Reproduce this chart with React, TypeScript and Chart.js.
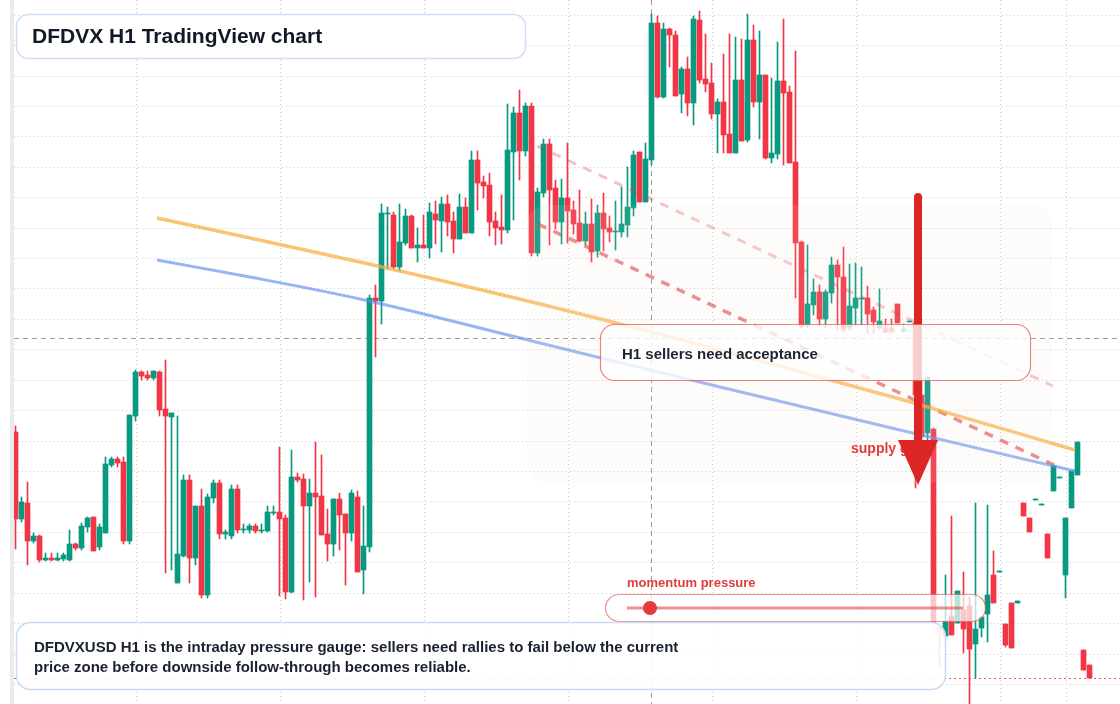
import React, { useEffect, useRef } from "react";
import { Chart, registerables } from "chart.js";

Chart.register(...registerables);

// ---- Candle data (DFDVX, H1) ----
const opens = [
  22.72, 21.85, 22.01, 21.63, 21.68, 21.44, 21.46, 21.44, 21.45, 21.44,
  21.60, 21.56, 21.77, 21.87, 21.57, 21.71, 22.39, 22.45, 22.42, 21.63,
  22.88, 23.32, 23.29, 23.26, 23.32, 22.95, 22.87, 21.21, 21.48, 22.24,
  21.46, 21.98, 21.09, 22.06, 22.21, 21.70, 21.68, 22.15, 21.74, 21.74,
  21.78, 21.73, 21.73, 21.91, 21.92, 21.86, 21.12, 22.27, 22.25, 21.98,
  22.11, 22.08, 21.70, 21.60, 22.05, 21.90, 21.71, 22.07, 21.34, 21.57,
  24.06, 24.03, 24.90, 24.89, 24.37, 24.61, 24.88, 24.56, 24.59, 24.56,
  24.90, 24.83, 25.00, 24.83, 24.65, 24.97, 24.71, 25.44, 25.22, 25.19,
  24.83, 24.77, 24.74, 25.52, 25.91, 25.53, 25.98, 24.51, 25.11, 25.60,
  25.16, 24.82, 25.06, 24.94, 24.81, 24.63, 24.80, 24.53, 24.91, 24.76,
  24.72, 24.72, 24.79, 24.96, 25.52, 25.02, 25.44, 26.81, 26.07, 26.75,
  26.69, 26.10, 26.35, 26.01, 26.84, 26.25, 26.21, 25.90, 26.02, 25.70,
  25.51, 26.24, 25.64, 26.64, 26.02, 26.29, 25.46, 25.50, 26.23, 26.12,
  25.42, 24.62, 23.78, 23.99, 24.12, 23.85, 24.11, 24.39, 24.27, 23.76,
  23.96, 24.05, 24.06, 23.94, 23.76, 23.76, 23.76, 24.00, 23.73, 23.82,
  23.81, 23.09, 22.71, 22.75, 20.77, 20.68, 20.88, 20.81, 20.94, 20.98,
  20.60, 20.76, 20.90, 21.29, 21.32, 20.80, 21.01, 21.01, 22.01, 21.86,
  22.04, 21.99, 21.70, 22.13, 22.26, 21.29, 21.96, 22.29, 20.54, 20.39,
];
const highs = [
  22.78, 22.07, 22.22, 21.71, 21.69, 21.51, 21.51, 21.51, 21.51, 21.74,
  21.61, 21.81, 21.87, 21.87, 21.80, 22.47, 22.47, 22.47, 22.47, 22.89,
  23.34, 23.33, 23.33, 23.33, 23.33, 23.44, 22.91, 22.88, 22.29, 22.29,
  21.98, 22.15, 22.10, 22.24, 22.24, 21.74, 22.19, 22.19, 21.80, 21.80,
  21.80, 21.80, 21.98, 21.98, 22.57, 21.89, 22.54, 22.31, 22.30, 22.25,
  22.62, 22.49, 21.95, 22.05, 22.11, 21.90, 22.14, 22.13, 21.98, 24.09,
  24.19, 25.00, 24.97, 24.92, 25.00, 24.95, 24.89, 24.76, 24.89, 25.01,
  25.03, 25.07, 25.09, 24.92, 25.10, 25.06, 25.53, 25.53, 25.28, 25.31,
  24.92, 25.09, 26.00, 25.97, 26.14, 26.01, 26.01, 25.16, 25.65, 25.65,
  25.24, 25.25, 25.61, 25.03, 25.14, 24.92, 25.05, 24.99, 25.11, 24.88,
  25.03, 25.17, 25.37, 25.53, 25.52, 25.61, 26.90, 26.88, 26.81, 26.76,
  26.73, 26.37, 26.47, 26.88, 26.93, 26.70, 26.41, 26.05, 26.50, 26.70,
  26.67, 26.65, 26.90, 26.79, 26.73, 26.29, 26.26, 26.62, 26.85, 26.18,
  26.53, 24.63, 24.59, 24.25, 24.19, 24.14, 24.47, 24.44, 24.57, 24.40,
  24.41, 24.37, 24.18, 23.97, 24.15, 23.85, 23.85, 24.00, 23.80, 23.83,
  23.84, 23.24, 23.27, 22.76, 20.77, 21.29, 21.88, 21.13, 21.32, 21.07,
  22.01, 20.87, 21.99, 21.53, 21.33, 20.80, 21.01, 21.03, 22.01, 21.86,
  22.05, 22.00, 21.70, 22.38, 22.27, 21.86, 22.33, 22.62, 20.54, 20.39,
];
const lows = [
  21.55, 21.82, 21.39, 21.61, 21.42, 21.43, 21.43, 21.43, 21.43, 21.43,
  21.54, 21.54, 21.72, 21.53, 21.54, 21.71, 22.37, 22.37, 21.60, 21.60,
  22.83, 23.24, 23.24, 23.24, 22.88, 21.31, 21.34, 21.21, 21.47, 21.21,
  21.39, 21.06, 21.06, 22.01, 21.65, 21.65, 21.65, 21.71, 21.71, 21.71,
  21.71, 21.71, 21.72, 21.89, 21.08, 21.05, 21.11, 22.22, 21.04, 21.22,
  21.07, 21.69, 21.43, 21.48, 21.54, 21.19, 21.63, 21.32, 21.10, 21.52,
  23.47, 23.80, 24.35, 24.35, 24.33, 24.59, 24.56, 24.42, 24.56, 24.46,
  24.60, 24.52, 24.68, 24.51, 24.65, 24.71, 24.71, 24.94, 25.06, 24.68,
  24.59, 24.60, 24.71, 24.84, 25.24, 25.48, 24.48, 24.48, 25.07, 24.59,
  24.75, 24.60, 24.61, 24.70, 24.62, 24.59, 24.42, 24.47, 24.53, 24.62,
  24.54, 24.67, 24.67, 24.88, 25.02, 25.02, 25.39, 26.06, 26.06, 26.37,
  26.08, 25.91, 25.88, 25.79, 26.21, 26.12, 25.85, 25.51, 25.51, 25.51,
  25.51, 25.63, 25.62, 25.97, 25.65, 25.45, 25.41, 25.45, 25.39, 25.41,
  24.06, 23.76, 23.76, 23.89, 23.78, 23.76, 24.01, 23.74, 23.72, 23.74,
  23.78, 23.78, 23.71, 23.71, 23.74, 23.71, 23.72, 23.81, 23.71, 23.82,
  22.16, 22.64, 22.64, 20.80, 20.37, 20.68, 20.69, 20.81, 20.51, 19.98,
  20.26, 20.67, 20.62, 21.01, 21.32, 20.57, 20.56, 21.01, 21.88, 21.72,
  22.04, 21.99, 21.46, 22.13, 22.26, 21.06, 21.96, 22.29, 20.34, 20.26,
];
const closes = [
  21.85, 22.02, 21.63, 21.68, 21.44, 21.46, 21.44, 21.46, 21.49, 21.60,
  21.56, 21.78, 21.86, 21.53, 21.77, 22.40, 22.45, 22.41, 21.63, 22.89,
  23.32, 23.28, 23.26, 23.33, 22.94, 22.88, 22.91, 21.50, 22.24, 21.46,
  21.98, 21.09, 22.07, 22.21, 21.70, 21.72, 22.15, 21.74, 21.75, 21.78,
  21.73, 21.74, 21.92, 21.92, 21.85, 21.12, 22.27, 22.24, 21.98, 22.11,
  22.07, 21.69, 21.60, 22.05, 21.89, 21.71, 22.11, 21.32, 21.58, 24.06,
  24.03, 24.91, 24.91, 24.37, 24.62, 24.88, 24.56, 24.59, 24.56, 24.92,
  24.84, 25.00, 24.82, 24.65, 24.97, 24.71, 25.44, 25.21, 25.18, 24.82,
  24.76, 24.74, 25.54, 25.91, 25.53, 25.98, 24.51, 25.12, 25.60, 25.14,
  24.82, 25.06, 24.93, 24.80, 24.63, 24.80, 24.52, 24.91, 24.75, 24.72,
  24.73, 24.80, 24.97, 25.49, 25.02, 25.45, 26.81, 26.07, 26.75, 26.69,
  26.08, 26.35, 26.01, 26.85, 26.24, 26.20, 25.90, 26.02, 25.69, 25.51,
  26.24, 25.63, 26.64, 26.02, 26.29, 25.46, 25.51, 26.23, 26.11, 25.41,
  24.61, 23.78, 24.00, 24.12, 23.85, 24.12, 24.39, 24.27, 23.74, 23.98,
  24.06, 24.06, 23.90, 23.82, 23.83, 23.72, 23.72, 23.81, 23.75, 23.83,
  23.09, 22.67, 23.27, 20.82, 20.72, 20.83, 20.69, 21.13, 20.75, 20.55,
  20.75, 20.87, 21.09, 21.01, 21.33, 20.59, 20.56, 21.03, 21.88, 21.72,
  22.05, 22.00, 21.46, 22.38, 22.27, 21.86, 22.33, 22.62, 20.34, 20.26,
];

// ---- Overlay lines (bar index, price) ----
const orangeIdx = [23.58, 57.42, 87.42, 117.42, 147.42, 176.58];
const orangePx = [24.86, 24.42, 24.0, 23.54, 23.05, 22.54];
const blueIdx = [23.58, 39.08, 57.42, 87.42, 117.42, 147.42, 176.58];
const bluePx = [24.44, 24.27, 24.05, 23.61, 23.17, 22.74, 22.33];
const resistIdx = [87.08, 173.08];
const resistPx = [24.8, 22.39];
const upperIdx = [86.92, 172.92];
const upperPx = [25.58, 23.18];

// ---- Axis / grid ----
const priceMin = 20.0;
const priceMax = 27.04;
const idxMin = -0.25;
const idxMax = 184.083;
const gridPriceTop = 26.893;
const gridPriceStep = 0.3042;
const gridPriceCount = 23;
const gridIdx = [20, 44, 68, 92, 116, 140, 164, 175];
const crossIdx = 105.92;
const crossPrice = 23.66;

const UP = "#089981";
const DOWN = "#f23645";
const FONT = '"Liberation Sans", Arial, Helvetica, sans-serif';

function rr(ctx: CanvasRenderingContext2D, x: number, y: number, w: number, h: number, r: number) {
  ctx.beginPath();
  ctx.moveTo(x + r, y);
  ctx.lineTo(x + w - r, y);
  ctx.arcTo(x + w, y, x + w, y + r, r);
  ctx.lineTo(x + w, y + h - r);
  ctx.arcTo(x + w, y + h, x + w - r, y + h, r);
  ctx.lineTo(x + r, y + h);
  ctx.arcTo(x, y + h, x, y + h - r, r);
  ctx.lineTo(x, y + r);
  ctx.arcTo(x, y, x + r, y, r);
  ctx.closePath();
}

const decorPlugin = {
  id: "decor",
  beforeDatasetsDraw(chart: any) {
    const { ctx, chartArea, scales } = chart;
    const xs = scales.x;
    const ys = scales.y;
    ctx.save();
    ctx.fillStyle = "#ebebeb";
    ctx.fillRect(10, 0, 4, chart.height);
    ctx.strokeStyle = "#c8cbd0";
    ctx.lineWidth = 1;
    ctx.setLineDash([1, 3]);
    for (let k = 0; k < gridPriceCount; k++) {
      const y = Math.round(ys.getPixelForValue(gridPriceTop - k * gridPriceStep)) + 0.5;
      ctx.beginPath();
      ctx.moveTo(chartArea.left, y);
      ctx.lineTo(chartArea.right, y);
      ctx.stroke();
    }
    gridIdx.forEach((i) => {
      const x = Math.round(xs.getPixelForValue(i)) + 0.5;
      ctx.beginPath();
      ctx.moveTo(x, 0);
      ctx.lineTo(x, chart.height);
      ctx.stroke();
    });
    ctx.strokeStyle = "#9a9a9a";
    ctx.setLineDash([5, 4]);
    const cy = Math.round(ys.getPixelForValue(crossPrice)) + 0.5;
    ctx.beginPath();
    ctx.moveTo(chartArea.left, cy);
    ctx.lineTo(chartArea.right, cy);
    ctx.stroke();
    const cx = Math.round(xs.getPixelForValue(crossIdx)) + 0.5;
    ctx.beginPath();
    ctx.moveTo(cx, 0);
    ctx.lineTo(cx, chart.height);
    ctx.stroke();
    ctx.strokeStyle = "#f05a5a";
    ctx.setLineDash([2, 3]);
    const py = Math.round(ys.getPixelForValue(closes[closes.length - 1])) + 0.5;
    ctx.beginPath();
    ctx.moveTo(chartArea.left, py);
    ctx.lineTo(chartArea.right, py);
    ctx.stroke();
    ctx.restore();
  },
  afterDraw(chart: any) {
    const ctx: CanvasRenderingContext2D = chart.ctx;
    ctx.save();
    ctx.setLineDash([]);
    // faint zone
    rr(ctx, 527, 205, 525, 278, 20);
    ctx.fillStyle = "rgba(245,228,218,0.11)";
    ctx.fill();

    // supply label
    ctx.fillStyle = "#e03c3c";
    ctx.font = `bold 14px ${FONT}`;
    ctx.textBaseline = "middle";
    ctx.fillText("supply gap", 851, 449);

    // arrow
    ctx.strokeStyle = "#dc2626";
    ctx.lineWidth = 8;
    ctx.lineCap = "round";
    ctx.beginPath();
    ctx.moveTo(918, 197);
    ctx.lineTo(918, 445);
    ctx.stroke();
    ctx.lineCap = "butt";
    ctx.fillStyle = "#dc2626";
    ctx.beginPath();
    ctx.moveTo(898, 440);
    ctx.lineTo(938, 440);
    ctx.lineTo(918, 485);
    ctx.closePath();
    ctx.fill();

    // H1 sellers box
    rr(ctx, 600.5, 324.5, 430, 56, 14);
    ctx.fillStyle = "rgba(255,255,255,0.78)";
    ctx.fill();
    ctx.strokeStyle = "rgba(228,90,90,0.75)";
    ctx.lineWidth = 1.2;
    ctx.stroke();
    ctx.fillStyle = "#1f2530";
    ctx.font = `bold 15px ${FONT}`;
    ctx.fillText("H1 sellers need acceptance", 622, 355);

    // momentum pressure widget
    ctx.fillStyle = "#e03e3e";
    ctx.font = `bold 13px ${FONT}`;
    ctx.fillText("momentum pressure", 627, 583);
    rr(ctx, 605.5, 594.5, 380, 27, 13.5);
    ctx.fillStyle = "rgba(255,255,255,0.72)";
    ctx.fill();
    ctx.strokeStyle = "rgba(228,90,90,0.65)";
    ctx.lineWidth = 1.2;
    ctx.stroke();
    ctx.strokeStyle = "rgba(225,70,70,0.6)";
    ctx.lineWidth = 3;
    ctx.beginPath();
    ctx.moveTo(627, 608);
    ctx.lineTo(963, 608);
    ctx.stroke();
    ctx.fillStyle = "#e23b3b";
    ctx.beginPath();
    ctx.arc(650, 608, 7, 0, Math.PI * 2);
    ctx.fill();

    // bottom text box
    rr(ctx, 16.5, 622.5, 929, 67, 14);
    ctx.fillStyle = "rgba(255,255,255,0.9)";
    ctx.fill();
    ctx.strokeStyle = "rgba(195,215,245,0.9)";
    ctx.lineWidth = 1.5;
    ctx.stroke();
    ctx.fillStyle = "#1a2230";
    ctx.font = `bold 15px ${FONT}`;
    ctx.fillText(
      "DFDVXUSD H1 is the intraday pressure gauge: sellers need rallies to fail below the current",
      34,
      648
    );
    ctx.fillText("price zone before downside follow-through becomes reliable.", 34, 668);

    // title box
    rr(ctx, 16.5, 14.5, 509, 44, 12);
    ctx.fillStyle = "#ffffff";
    ctx.fill();
    ctx.strokeStyle = "rgba(200,218,245,0.9)";
    ctx.lineWidth = 1.5;
    ctx.stroke();
    ctx.fillStyle = "#111827";
    ctx.font = `bold 21px ${FONT}`;
    ctx.fillText("DFDVX H1 TradingView chart", 32, 37);
    ctx.restore();
  },
};

export default function App() {
  const ref = useRef<HTMLCanvasElement | null>(null);
  useEffect(() => {
    document.body.style.margin = "0";
    const idx = opens.map((_, i) => i);
    const colors = idx.map((i) => (closes[i] >= opens[i] ? UP : DOWN));
    const chart = new Chart(ref.current as HTMLCanvasElement, {
      type: "bar",
      data: {
        datasets: [
          {
            type: "line",
            data: orangeIdx.map((x, k) => ({ x, y: orangePx[k] })),
            borderColor: "rgba(246,173,62,0.72)",
            borderWidth: 3.5,
            pointRadius: 0,
            cubicInterpolationMode: "monotone",
            order: 0,
          },
          {
            type: "line",
            data: blueIdx.map((x, k) => ({ x, y: bluePx[k] })),
            borderColor: "rgba(96,140,240,0.65)",
            borderWidth: 3,
            pointRadius: 0,
            cubicInterpolationMode: "monotone",
            order: 0,
          },
          {
            type: "line",
            data: resistIdx.map((x, k) => ({ x, y: resistPx[k] })),
            borderColor: "rgba(220,60,60,0.62)",
            borderWidth: 3.5,
            borderDash: [9, 8],
            pointRadius: 0,
            order: 0,
          },
          {
            type: "line",
            data: upperIdx.map((x, k) => ({ x, y: upperPx[k] })),
            borderColor: "rgba(220,60,60,0.3)",
            borderWidth: 3,
            borderDash: [9, 8],
            pointRadius: 0,
            order: 0,
          },
          {
            type: "bar",
            data: idx.map((i) => ({ x: i, y: [opens[i], closes[i]] })),
            backgroundColor: colors,
            borderWidth: 0,
            barThickness: 5,
            maxBarThickness: 5,
            grouped: false,
            order: 1,
          },
          {
            type: "bar",
            data: idx.map((i) => ({ x: i, y: [lows[i], highs[i]] })),
            backgroundColor: colors,
            borderWidth: 0,
            barThickness: 1,
            maxBarThickness: 1,
            grouped: false,
            order: 2,
          },
        ],
      } as any,
      options: {
        responsive: false,
        animation: false,
        devicePixelRatio: 1,
        events: [],
        layout: { padding: { left: 14, right: 0, top: 0, bottom: 0 } },
        plugins: { legend: { display: false }, tooltip: { enabled: false } },
        scales: {
          x: { type: "linear", display: false, min: idxMin, max: idxMax, offset: false },
          y: { type: "linear", display: false, min: priceMin, max: priceMax },
        },
      } as any,
      plugins: [decorPlugin],
    });
    return () => chart.destroy();
  }, []);
  return (
    <div style={{ width: 1120, height: 704, background: "#ffffff" }}>
      <canvas ref={ref} width={1120} height={704} style={{ display: "block" }} />
    </div>
  );
}
